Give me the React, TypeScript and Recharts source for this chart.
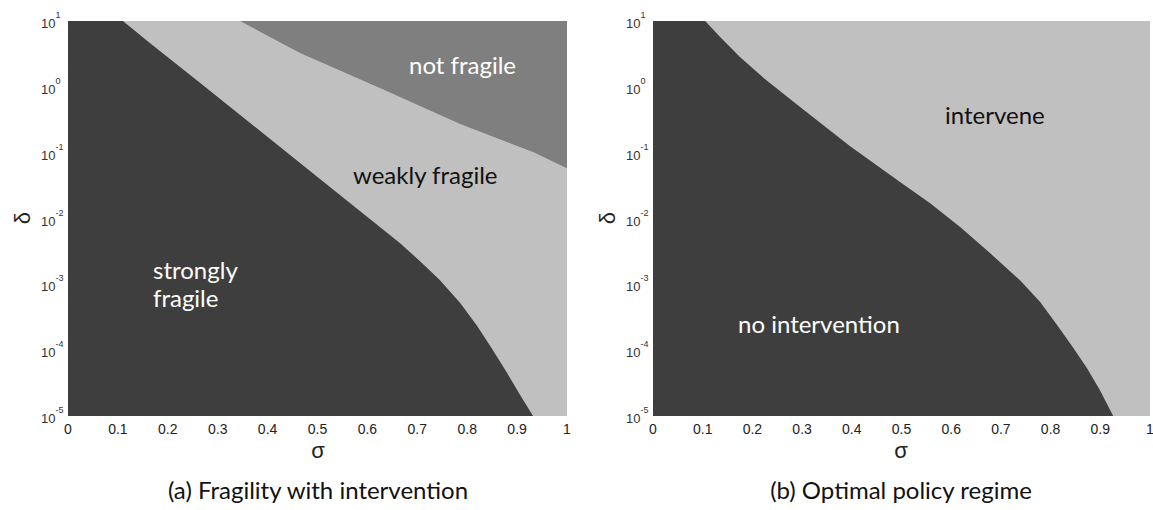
import React from "react";
import { ComposedChart, Area, XAxis, YAxis, CartesianGrid } from "recharts";

const sigmaTicks = [0, 0.1, 0.2, 0.3, 0.4, 0.5, 0.6, 0.7, 0.8, 0.9, 1];
const deltaTicks = [0.00001, 0.0001, 0.001, 0.01, 0.1, 1, 10];
const DELTA_MIN = 0.00001;
const DELTA_MAX = 10;

// (a) edge of the "strongly fragile" region
const strongSigma = [0, 0.11, 0.164, 0.265, 0.365, 0.465, 0.565, 0.665, 0.705, 0.745, 0.786, 0.82, 0.85, 0.88, 0.906, 0.932];
const strongDelta = [10, 10, 4.64, 1.14, 0.283, 0.0697, 0.0172, 0.00425, 0.00226, 0.00116, 0.00052, 0.000233, 0.000104, 0.000045, 0.0000208, 0.00001];

// (a) edge of the "not fragile" region
const notFragileSigma = [0.345, 0.465, 0.625, 0.786, 0.932, 1];
const notFragileDelta = [10, 3.27, 0.96, 0.272, 0.102, 0.058];

// (b) edge of the "no intervention" region
const noInterSigma = [0, 0.105, 0.135, 0.175, 0.225, 0.296, 0.396, 0.497, 0.557, 0.618, 0.678, 0.738, 0.779, 0.813, 0.843, 0.873, 0.899, 0.926];
const noInterDelta = [10, 10, 5.71, 2.84, 1.32, 0.494, 0.126, 0.0358, 0.0172, 0.00743, 0.00299, 0.00116, 0.000538, 0.000241, 0.000116, 0.0000536, 0.0000248, 0.00001];

const DARK = "#3e3e3e";
const LIGHT = "#c0c0c0";
const MID = "#7f7f7f";

type Row = { s: number; low?: number[]; high?: number[] };

function buildRows(lowS: number[], lowD: number[], highS: number[] = [], highD: number[] = []) {
  const rows: Row[] = [];
  lowS.forEach((s, i) => rows.push({ s, low: [DELTA_MIN, lowD[i]] }));
  highS.forEach((s, i) => rows.push({ s, high: [highD[i], DELTA_MAX] }));
  return rows.sort((a, b) => a.s - b.s);
}

const rowsA = buildRows(strongSigma, strongDelta, notFragileSigma, notFragileDelta);
const rowsB = buildRows(noInterSigma, noInterDelta);

const tickFont = "'Liberation Sans', Arial, sans-serif";

function PowerTick(props: any) {
  const { x, y, payload } = props;
  const exp = Math.round(Math.log10(payload.value));
  return (
    <text x={x - 19} y={y} textAnchor="start" fill="#333" fontFamily={tickFont} fontSize={13}>
      <tspan dy={7}>10</tspan>
      <tspan dy={-10} fontSize={9}>{exp}</tspan>
    </text>
  );
}

function Panel({ rows, hasHigh, marginLeft, width, plotWidth }: any) {
  return (
    <ComposedChart
      width={width}
      height={446}
      data={rows}
      margin={{ top: 21, left: marginLeft, right: width - marginLeft - 40 - plotWidth, bottom: 0 }}
    >
      <CartesianGrid horizontal={false} vertical={false} fill={LIGHT} stroke="none" />
      <XAxis
        dataKey="s"
        type="number"
        domain={[0, 1]}
        ticks={sigmaTicks}
        tickFormatter={(v: number) => String(v)}
        tickLine={false}
        axisLine={false}
        height={30}
        tick={{ fill: "#222", fontSize: 14, fontFamily: tickFont }}
        interval={0}
      />
      <YAxis
        type="number"
        scale="log"
        domain={[DELTA_MIN, DELTA_MAX]}
        ticks={deltaTicks}
        allowDataOverflow
        tickLine={false}
        axisLine={false}
        width={40}
        tick={<PowerTick />}
        interval={0}
      />
      <Area
        dataKey="low"
        type="linear"
        fill={DARK}
        fillOpacity={1}
        stroke="none"
        connectNulls
        isAnimationActive={false}
        dot={false}
        activeDot={false}
      />
      {hasHigh && (
        <Area
          dataKey="high"
          type="linear"
          fill={MID}
          fillOpacity={1}
          stroke="none"
          connectNulls
          isAnimationActive={false}
          dot={false}
          activeDot={false}
        />
      )}
    </ComposedChart>
  );
}

const labelFont = "Lato, 'Open Sans', sans-serif";

export default function App() {
  return (
    <div style={{ position: "absolute", left: 0, top: 0, width: 1153, height: 510, background: "#fff", overflow: "hidden" }}>
      <div style={{ position: "absolute", left: 0, top: 0 }}>
        <Panel rows={rowsA} hasHigh marginLeft={28} width={590} plotWidth={499} />
      </div>
      <div style={{ position: "absolute", left: 580, top: 0 }}>
        <Panel rows={rowsB} hasHigh={false} marginLeft={33} width={573} plotWidth={497} />
      </div>
      <svg width={1153} height={510} style={{ position: "absolute", left: 0, top: 0, pointerEvents: "none" }}>
        <g fontFamily={tickFont} fontSize={22} fill="#222">
          <text x={22} y={218} transform="rotate(-90 22 218)" textAnchor="middle" dominantBaseline="central">δ</text>
          <text x={607} y={218} transform="rotate(-90 607 218)" textAnchor="middle" dominantBaseline="central">δ</text>
          <text x={318} y={458} textAnchor="middle">σ</text>
          <text x={901} y={458} textAnchor="middle">σ</text>
        </g>
        <g fontFamily={labelFont} fontSize={24}>
          <text x={153} y={279} fill="#fff">strongly</text>
          <text x={153} y={307} fill="#fff">fragile</text>
          <text x={409} y={74} fill="#fff">not fragile</text>
          <text x={353} y={184} fill="#111">weakly fragile</text>
          <text x={738} y={333} fill="#fff">no intervention</text>
          <text x={945} y={124} fill="#111">intervene</text>
          <text x={318} y={499} fill="#111" textAnchor="middle">(a) Fragility with intervention</text>
          <text x={901} y={499} fill="#111" textAnchor="middle">(b) Optimal policy regime</text>
        </g>
      </svg>
    </div>
  );
}
